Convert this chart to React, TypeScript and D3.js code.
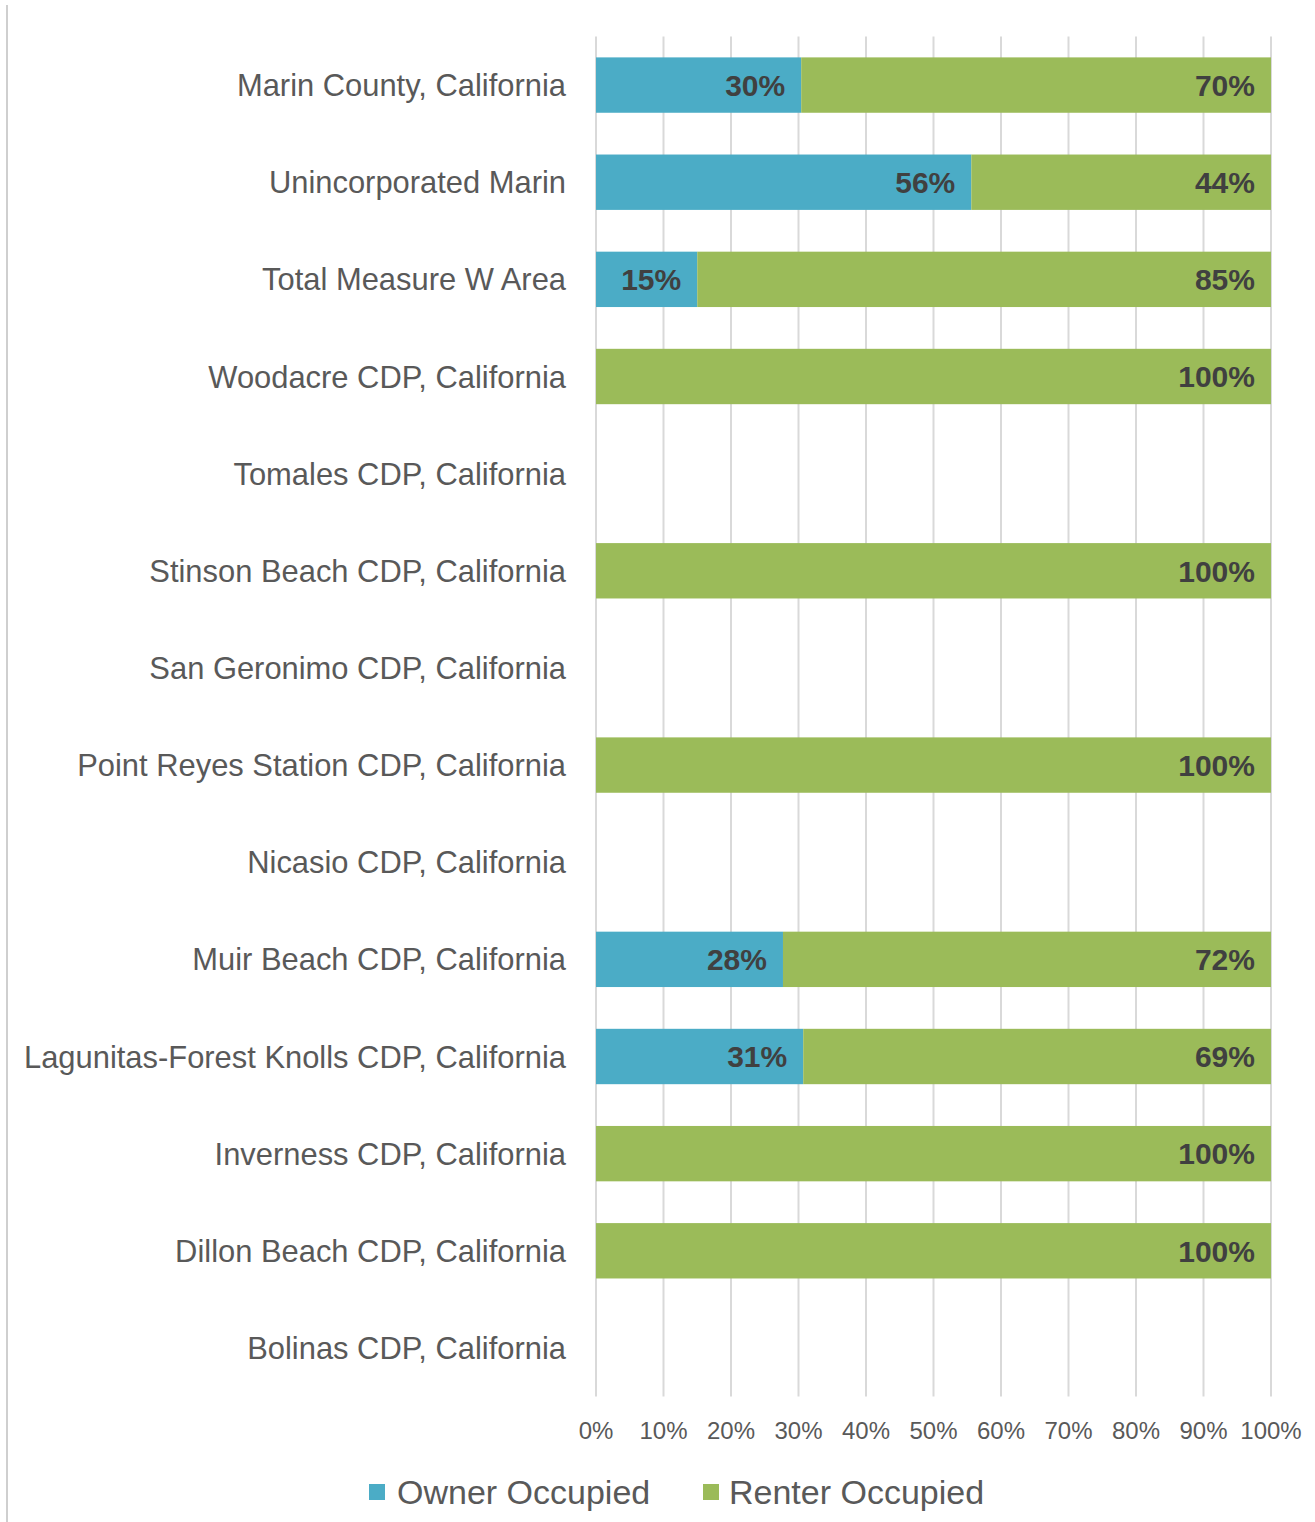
import React from "react";
import * as d3 from "d3";

const categories = [
  "Marin County, California",
  "Unincorporated Marin",
  "Total Measure W Area",
  "Woodacre CDP, California",
  "Tomales CDP, California",
  "Stinson Beach CDP, California",
  "San Geronimo CDP, California",
  "Point Reyes Station CDP, California",
  "Nicasio CDP, California",
  "Muir Beach CDP, California",
  "Lagunitas-Forest Knolls CDP, California",
  "Inverness CDP, California",
  "Dillon Beach CDP, California",
  "Bolinas CDP, California",
];

// percent values; null = no data
const ownerOccupied: (number | null)[] = [30.4, 55.6, 15.0, 0, null, 0, null, 0, null, 27.7, 30.7, 0, 0, null];
const renterOccupied: (number | null)[] = [69.6, 44.4, 85.0, 100, null, 100, null, 100, null, 72.3, 69.3, 100, 100, null];

const xTicks = [0, 10, 20, 30, 40, 50, 60, 70, 80, 90, 100];
const seriesNames = ["Owner Occupied", "Renter Occupied"];
const seriesColors = ["#4BACC6", "#9BBB59"];

const FONT = "'Liberation Sans', Arial, Helvetica, sans-serif";

export default function App() {
  const W = 1315;
  const H = 1522;
  const x = d3.scaleLinear().domain([0, 100]).range([596, 1271]);
  const y = d3
    .scaleBand<string>()
    .domain(categories)
    .range([36.5, 1396.5])
    .paddingInner(0.43)
    .paddingOuter(0.215);
  const bw = y.bandwidth();
  const top = 36.5;
  const bottom = 1396.5;

  return (
    <svg
      width={W}
      height={H}
      style={{ position: "absolute", left: 0, top: 0, background: "#fff" }}
      fontFamily={FONT}
    >
      <rect x={0} y={0} width={W} height={H} fill="#fff" />
      {/* left border */}
      <line x1={7} x2={7} y1={5} y2={H} stroke="#bfbfbf" strokeWidth={1.5} />
      {/* gridlines */}
      {xTicks.map((t) => (
        <line
          key={"g" + t}
          x1={x(t)}
          x2={x(t)}
          y1={top}
          y2={bottom}
          stroke="#d9d9d9"
          strokeWidth={2}
        />
      ))}
      {/* bars */}
      {categories.map((c, i) => {
        const o = ownerOccupied[i];
        const r = renterOccupied[i];
        const y0 = y(c)!;
        const els: React.ReactNode[] = [];
        if (o !== null && o > 0) {
          els.push(
            <rect key="o" x={x(0)} y={y0} width={x(o) - x(0)} height={bw} fill={seriesColors[0]} />
          );
          els.push(
            <text
              key="ot"
              x={x(o) - 16}
              y={y0 + bw / 2}
              dy="0.36em"
              textAnchor="end"
              fontSize={30}
              fontWeight="bold"
              fill="#404040"
            >
              {Math.round(o)}%
            </text>
          );
        }
        if (r !== null && r > 0) {
          const s = o ?? 0;
          els.push(
            <rect key="r" x={x(s)} y={y0} width={x(s + r) - x(s)} height={bw} fill={seriesColors[1]} />
          );
          els.push(
            <text
              key="rt"
              x={x(s + r) - 16}
              y={y0 + bw / 2}
              dy="0.36em"
              textAnchor="end"
              fontSize={30}
              fontWeight="bold"
              fill="#404040"
            >
              {Math.round(r)}%
            </text>
          );
        }
        return <g key={c}>{els}</g>;
      })}
      {/* category labels */}
      {categories.map((c) => (
        <text
          key={"l" + c}
          x={566}
          y={y(c)! + bw / 2}
          dy="0.36em"
          textAnchor="end"
          fontSize={30.9}
          fill="#595959"
        >
          {c}
        </text>
      ))}
      {/* x tick labels */}
      {xTicks.map((t) => (
        <text
          key={"t" + t}
          x={x(t)}
          y={1430}
          dy="0.36em"
          textAnchor="middle"
          fontSize={24}
          fill="#595959"
        >
          {t}%
        </text>
      ))}
      {/* legend */}
      <rect x={369} y={1484} width={16} height={16} fill={seriesColors[0]} />
      <text x={397} y={1492} dy="0.36em" fontSize={34} fill="#595959">
        {seriesNames[0]}
      </text>
      <rect x={703} y={1484} width={16} height={16} fill={seriesColors[1]} />
      <text x={729} y={1492} dy="0.36em" fontSize={34} fill="#595959">
        {seriesNames[1]}
      </text>
    </svg>
  );
}
